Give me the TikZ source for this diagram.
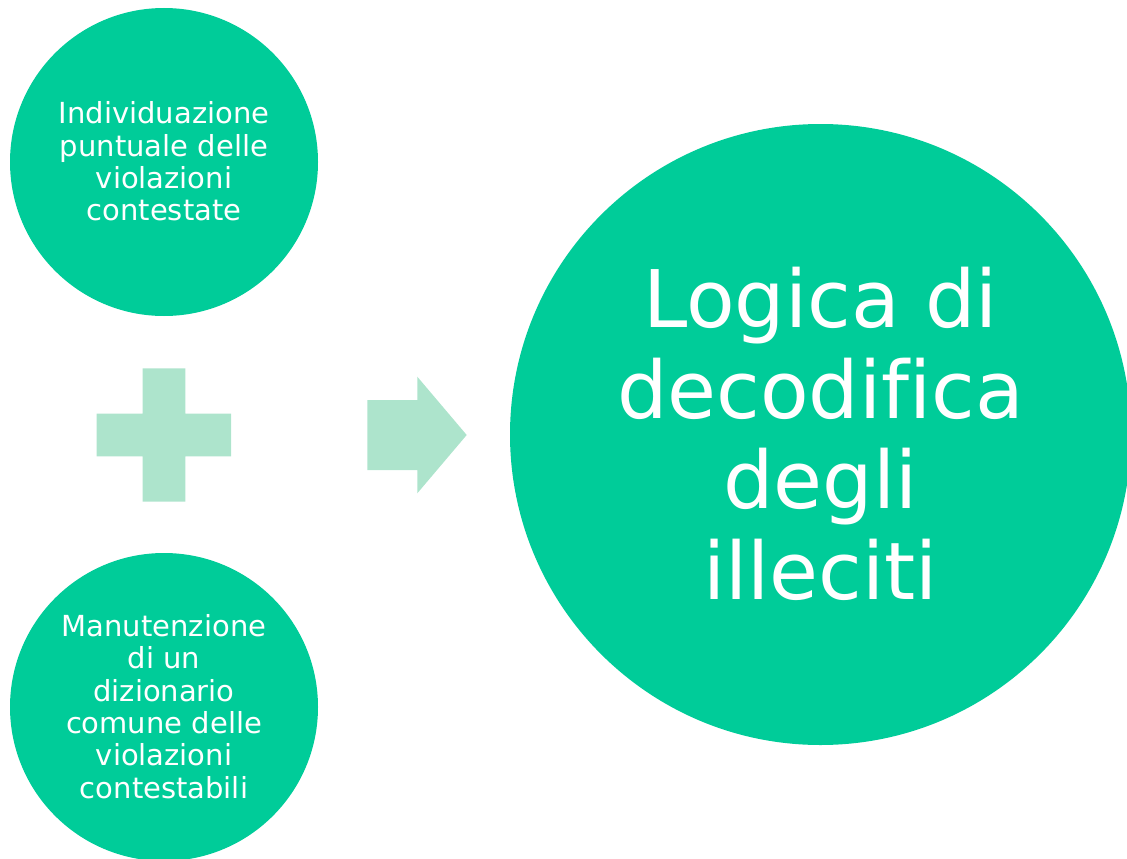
\documentclass[tikz,border=0pt]{standalone}
\usepackage{fontspec}
\setmainfont{DejaVu Sans}[Ligatures=NoCommon]
\definecolor{bubblegreen}{HTML}{00CC99}
\definecolor{mintgreen}{HTML}{ADE4CC}
\begin{document}
\begin{tikzpicture}[x=1pt,y=-1pt,
  bubble/.style={circle,fill=bubblegreen,draw=none,inner sep=0pt},
  smalltxt/.style={text=white,align=center,inner sep=0pt,font=\fontsize{29}{32.3}\selectfont},
  bigtxt/.style={text=white,align=center,inner sep=0pt,font=\fontsize{79.5}{90.5}\selectfont},
  mintfill/.style={fill=mintgreen,draw=none}]
\useasboundingbox (0,0) rectangle (1127,859);
\node[bubble,minimum size=308pt] (c1) at (164,162) {};
\node[bubble,minimum size=308pt] (c2) at (164,707) {};
\node[bubble,minimum size=621pt] (c3) at (820.5,434.5) {};
\node[smalltxt] (t1) at (164,161.5) {Individuazione\\puntuale delle\\violazioni\\contestate};
\node[smalltxt] (t2) at (164,706.5) {Manutenzione\\di un\\dizionario\\comune delle\\violazioni\\contestabili};
\node[bigtxt] (t3) at (820.5,434) {Logica di\\decodifica\\degli\\illeciti};
% plus sign
\fill[mintfill] (142.7,368.3) -- (185.3,368.3) -- (185.3,413.7) -- (231,413.7) -- (231,456.3)
  -- (185.3,456.3) -- (185.3,501.7) -- (142.7,501.7) -- (142.7,456.3) -- (96.7,456.3)
  -- (96.7,413.7) -- (142.7,413.7) -- cycle;
% arrow
\fill[mintfill] (367.3,400) -- (417.3,400) -- (417.3,376.7) -- (466.7,435) -- (417.3,493.3)
  -- (417.3,470) -- (367.3,470) -- cycle;
\end{tikzpicture}
\end{document}
